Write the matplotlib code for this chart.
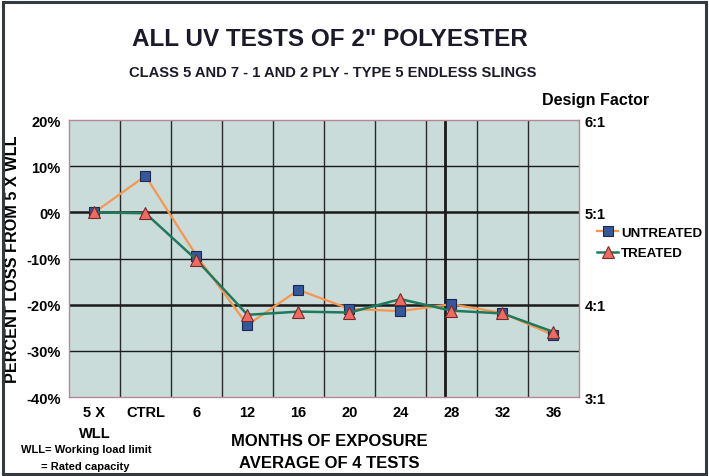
import matplotlib.pyplot as plt
from matplotlib.patches import Rectangle

# Data
categories = ['5 X\nWLL', 'CTRL', '6', '12', '16', '20', '24', '28', '32', '36']
untreated = [0.0, 7.9, -9.4, -24.4, -16.8, -20.9, -21.4, -19.9, -21.8, -26.6]
treated = [0.0, -0.2, -10.3, -22.2, -21.5, -21.7, -18.8, -21.3, -21.9, -25.9]
y_ticks = [20, 10, 0, -10, -20, -30, -40]
factor_labels = ['6:1', '5:1', '4:1', '3:1']

title_font = ['Liberation Sans Narrow', 'DejaVu Sans Condensed', 'Liberation Sans']
plt.rcParams['font.family'] = ['Liberation Sans', 'DejaVu Sans']

fig = plt.figure(figsize=(7.09, 4.77), dpi=100)
fig.patch.set_facecolor('white')
fig.patches.append(Rectangle((0.004, 0.004), 0.992, 0.99, transform=fig.transFigure,
                             fill=False, edgecolor='#333a40', linewidth=2.2))

ax = fig.add_axes([0.0973, 0.1656, 0.7193, 0.5807])
ax.set_facecolor('#c9dcd9')
x = list(range(len(categories)))

# grid: cell borders between categories
for b in range(1, len(categories)):
    ax.axvline(b - 0.5, color='#2a2a2a', linewidth=1.0, zorder=1)
ax.axvline(6.87, color='#1a1a1a', linewidth=2.0, zorder=1)
for t in y_ticks[1:-1]:
    lw = 1.8 if t in (0, -20) else 1.0
    ax.axhline(t, color='#1a1a1a', linewidth=lw, zorder=1)

ax.plot(x, untreated, color='#f8964e', linewidth=1.6, marker='s', markersize=7.5,
        markerfacecolor='#34589a', markeredgecolor='#1c2a50', markeredgewidth=0.8,
        label='UNTREATED', zorder=3)
ax.plot(x, treated, color='#1f7a5c', linewidth=1.8, marker='^', markersize=9,
        markerfacecolor='#f06a62', markeredgecolor='#7a2a2a', markeredgewidth=0.8,
        label='TREATED', zorder=4)

ax.set_xlim(-0.5, len(categories) - 0.5)
ax.set_ylim(-40, 20)
ax.set_yticks(y_ticks)
ax.set_yticklabels([f'{t}%' for t in y_ticks], fontsize=10.5, fontweight='bold')
ax.set_xticks(x)
ax.set_xticklabels(categories, fontsize=10.5, fontweight='bold', linespacing=1.6)
ax.tick_params(length=0, pad=6)
for s in ax.spines.values():
    s.set_color('#b58a96')
    s.set_linewidth(1.0)

ax2 = ax.twinx()
ax2.set_ylim(3, 6)
ax2.set_yticks([6, 5, 4, 3])
ax2.set_yticklabels(factor_labels, fontsize=10.5, fontweight='bold')
ax2.tick_params(length=0, pad=4)
for s in ax2.spines.values():
    s.set_visible(False)

ax.set_ylabel('PERCENT LOSS FROM 5 X WLL', fontsize=11.7, fontweight='bold')
ax.yaxis.set_label_coords(-0.096, 0.5)

fig.text(0.465, 0.918, 'ALL UV TESTS OF 2" POLYESTER', ha='center', va='center',
         fontsize=17.5, fontweight='bold', family=title_font, color='#1a1a2a')
fig.text(0.47, 0.846, 'CLASS 5 AND 7 - 1 AND 2 PLY - TYPE 5 ENDLESS SLINGS', ha='center',
         va='center', fontsize=10.6, fontweight='bold', family=title_font, color='#1a1a2a')
fig.text(0.84, 0.79, 'Design Factor', ha='center', va='center', fontsize=11.5,
         fontweight='bold')
fig.text(0.465, 0.074, 'MONTHS OF EXPOSURE', ha='center', va='center', fontsize=12,
         fontweight='bold', family=title_font)
fig.text(0.465, 0.028, 'AVERAGE OF 4 TESTS', ha='center', va='center', fontsize=12,
         fontweight='bold', family=title_font)
fig.text(0.03, 0.056, 'WLL= Working load limit', ha='left', va='center', fontsize=8,
         fontweight='bold', family=title_font)
fig.text(0.058, 0.022, '= Rated capacity', ha='left', va='center', fontsize=8,
         fontweight='bold', family=title_font)

ax.legend(loc='center left', bbox_to_anchor=(1.025, 0.556), frameon=False,
          prop={'weight': 'bold', 'size': 9.6}, handlelength=1.6,
          handletextpad=0.2, labelspacing=0.6, borderaxespad=0, markerscale=0.95)

fig.savefig('out.png', dpi=100)
